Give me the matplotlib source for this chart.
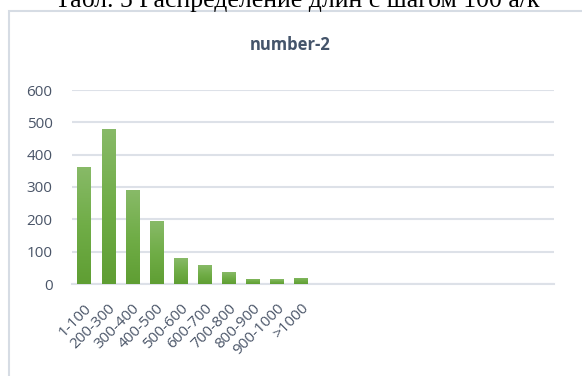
import matplotlib.pyplot as plt
import numpy as np
from matplotlib.colors import LinearSegmentedColormap
from matplotlib.patches import Rectangle

caption = "Табл. 5 Распределение длин с шагом 100 а/к"
title = "number-2"
categories = ["1-100", "200-300", "300-400", "400-500", "500-600",
              "600-700", "700-800", "800-900", "900-1000", ">1000"]
counts = [362, 479, 290, 194, 80, 58, 36, 17, 14, 20]
n_slots = 20  # the category axis keeps room for 20 columns
yticks = [0, 100, 200, 300, 400, 500, 600]

TEXT = "#4A5568"
GRID = "#DDE1E8"
green = LinearSegmentedColormap.from_list(
    "excel_green", ["#5F9E33", "#70AD47", "#88BA68"])

plt.rcParams["font.family"] = ["Open Sans", "DejaVu Sans"]

fig = plt.figure(figsize=(5.82, 3.76), dpi=100)
fig.patch.set_facecolor("white")

# chart frame, its right and bottom edges fall outside the picture
fig.patches.append(Rectangle((8.5 / 582, -0.2), 1.2, 1.2 - 10.5 / 376,
                             transform=fig.transFigure, fill=False,
                             edgecolor="#D6DCE4", linewidth=1.5))

# caption of the page, cut off by the top edge as in the source
fig.text(297 / 582, 1 - 6.5 / 376, caption, ha="center", va="baseline",
         family=["Liberation Serif"], fontsize=18.5, color="black")

ax = fig.add_axes([72 / 582, 1 - 284 / 376, (554 - 72) / 582, (284 - 90) / 376])
x = np.arange(len(categories))
bars = ax.bar(x, counts, width=0.55, color="#70AD47", zorder=2)

grad = np.linspace(0, 1, 256).reshape(-1, 1)
for b in bars:
    im = ax.imshow(grad, cmap=green, aspect="auto", origin="lower",
                   extent=[b.get_x(), b.get_x() + b.get_width(), 0, b.get_height()],
                   zorder=3)
    im.set_clip_path(b)

ax.set_xlim(-0.5, n_slots - 0.5)
ax.set_ylim(0, 600)
ax.set_yticks(yticks)
ax.set_xticks(x)
ax.set_xticklabels(categories, rotation=45, ha="right", va="top",
                   rotation_mode="anchor")
ax.tick_params(axis="both", length=0, labelsize=11, colors=TEXT)
ax.tick_params(axis="y", pad=14)
ax.tick_params(axis="x", pad=12)
ax.grid(axis="y", color=GRID, linewidth=1.5, zorder=0)
for side in ["top", "right", "left"]:
    ax.spines[side].set_visible(False)
ax.spines["bottom"].set_color(GRID)
ax.spines["bottom"].set_linewidth(1.5)

fig.text(290 / 582, 1 - 45 / 376, title, ha="center", va="center",
         fontsize=12, fontweight="bold", color="#44546A")

fig.savefig("out.png", dpi=100)
